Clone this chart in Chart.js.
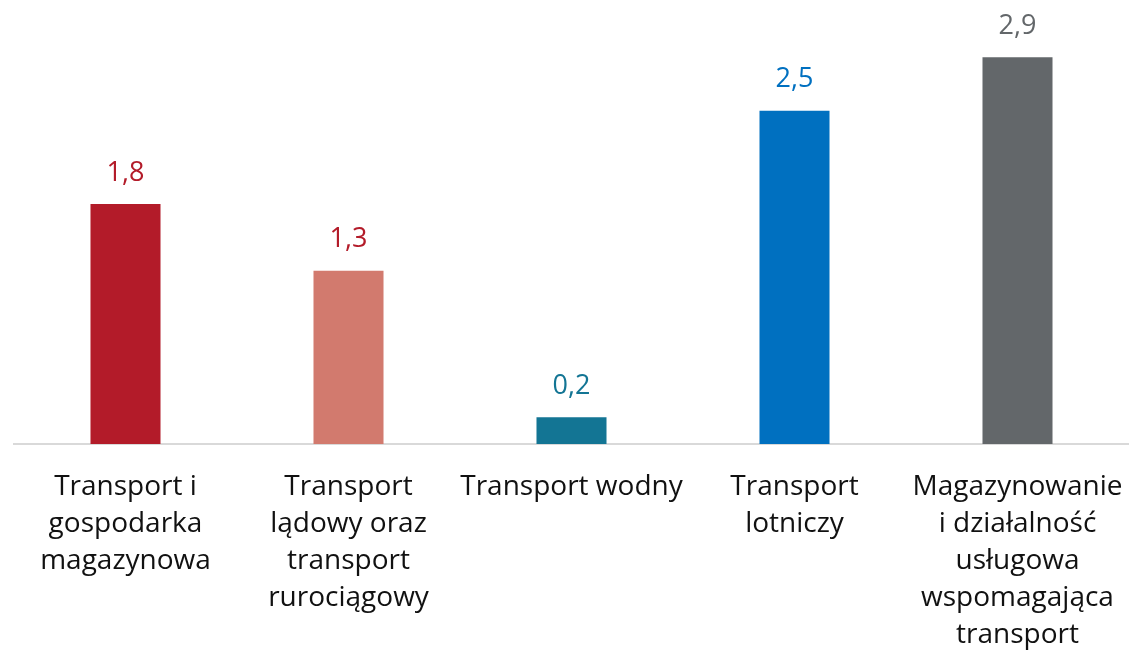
<!DOCTYPE html>
<html>
<head>
<meta charset="utf-8">
<script src="https://cdn.jsdelivr.net/npm/chart.js@4"></script>
<style>
  html, body { margin: 0; padding: 0; background: #fff; }
  #wrap { width: 1129px; height: 657px; position: relative; }
</style>
</head>
<body>
<div id="wrap"><canvas id="chart"></canvas></div>
<script>
// category labels, already broken into lines as in the original
var categories = [
  ['Transport i', 'gospodarka', 'magazynowa'],
  ['Transport', 'lądowy oraz', 'transport', 'rurociągowy'],
  ['Transport wodny'],
  ['Transport', 'lotniczy'],
  ['Magazynowanie', 'i działalność', 'usługowa', 'wspomagająca', 'transport']
];
var values = [1.8, 1.3, 0.2, 2.5, 2.9];
var barColors = ['#b31b29', '#d27a6e', '#137594', '#0070c0', '#63676a'];
var valueColors = ['#b31b29', '#b31b29', '#137594', '#0070c0', '#63676a'];

var FONT = '"Open Sans", sans-serif';

// draws "1,8" style labels above each bar
var valueLabels = {
  id: 'valueLabels',
  afterDatasetsDraw: function (chart) {
    var ctx = chart.ctx;
    var meta = chart.getDatasetMeta(0);
    ctx.save();
    ctx.font = '27px ' + FONT;
    ctx.textAlign = 'center';
    ctx.textBaseline = 'middle';
    meta.data.forEach(function (bar, i) {
      ctx.fillStyle = valueColors[i];
      ctx.fillText(values[i].toFixed(1).replace('.', ','), bar.x, bar.y - 31);
    });
    ctx.restore();
  }
};

new Chart(document.getElementById('chart'), {
  type: 'bar',
  data: {
    labels: categories,
    datasets: [{
      data: values,
      backgroundColor: barColors,
      borderWidth: 0,
      categoryPercentage: 1,
      barPercentage: 0.314
    }]
  },
  options: {
    responsive: true,
    maintainAspectRatio: false,
    animation: false,
    events: [],
    layout: { padding: { left: 14, right: 0, top: 0, bottom: 0 } },
    plugins: {
      legend: { display: false },
      tooltip: { enabled: false }
    },
    scales: {
      x: {
        grid: { display: false, drawTicks: false },
        border: { display: true, color: '#d9d9d9', width: 2 },
        ticks: {
          color: '#111',
          font: { family: FONT, size: 28, lineHeight: 1.32 },
          padding: 25,
          maxRotation: 0,
          autoSkip: false
        },
        // labels may spill past the plot edges, as in the original
        afterFit: function (scale) {
          scale.height = 213;
          scale.paddingLeft = 0;
          scale.paddingRight = 0;
        }
      },
      y: {
        display: false,
        min: 0,
        max: 3.33
      }
    }
  },
  plugins: [valueLabels]
});
</script>
</body>
</html>
